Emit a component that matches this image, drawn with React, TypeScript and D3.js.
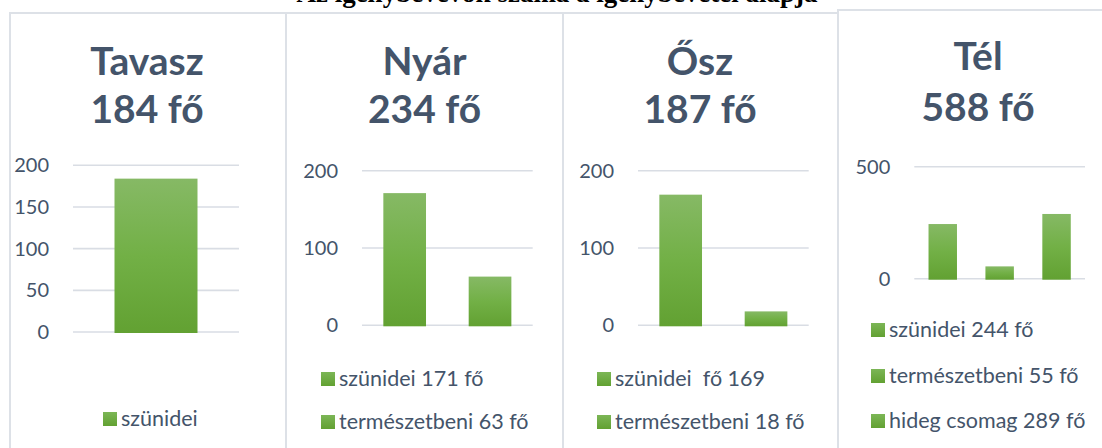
import React from "react";
import * as d3 from "d3";

// ---- data ----
const chartTitle = "Az igénybevevők száma a igénybevétel alapja";
const seasons = ["Tavasz", "Nyár", "Ősz", "Tél"];
const seasonTotals = ["184 fő", "234 fő", "187 fő", "588 fő"];

const tavaszCategories = ["szünidei"];
const tavaszValues = [184];
const nyarCategories = ["szünidei 171 fő", "természetbeni 63 fő"];
const nyarValues = [171, 63];
const oszCategories = ["szünidei  fő 169", "természetbeni 18 fő"];
const oszValues = [169, 18];
const telCategories = ["szünidei 244 fő", "természetbeni 55 fő", "hideg csomag 289 fő"];
const telValues = [244, 55, 289];

const tavaszTicks = [0, 50, 100, 150, 200];
const nyarTicks = [0, 100, 200];
const oszTicks = [0, 100, 200];
const telTicks = [0, 500];

// ---- layout ----
const W = 1102;
const H = 448;
const TEXT = "#44546a";
const GRID = "#d9dde4";
const BORDER = "#dde1e7";
const FONT = "Lato, 'Open Sans', sans-serif";

type Panel = {
  season: string;
  total: string;
  cats: string[];
  vals: number[];
  ticks: number[];
  max: number;
  box: [number, number, number]; // left, top, right
  xr: [number, number];
  yr: [number, number];
  headX: number;
  headY: [number, number];
  legend: "center" | "list";
  legendX: number;
  legendY: number[];
};

const panels: Panel[] = [
  {
    season: seasons[0], total: seasonTotals[0], cats: tavaszCategories, vals: tavaszValues,
    ticks: tavaszTicks, max: 200, box: [10, 13, 286], xr: [73, 239], yr: [332, 165.3],
    headX: 147, headY: [75, 123], legend: "center", legendX: 103, legendY: [426],
  },
  {
    season: seasons[1], total: seasonTotals[1], cats: nyarCategories, vals: nyarValues,
    ticks: nyarTicks, max: 200, box: [286, 13, 563], xr: [362, 532.7], yr: [325.3, 170.7],
    headX: 424.5, headY: [75, 123], legend: "list", legendX: 321, legendY: [386, 429],
  },
  {
    season: seasons[2], total: seasonTotals[2], cats: oszCategories, vals: oszValues,
    ticks: oszTicks, max: 200, box: [563, 13, 838], xr: [638, 808.7], yr: [325.3, 170.7],
    headX: 700, headY: [75, 123], legend: "list", legendX: 597, legendY: [386, 429],
  },
  {
    season: seasons[3], total: seasonTotals[3], cats: telCategories, vals: telValues,
    ticks: telTicks, max: 500, box: [838, 10, 1110], xr: [914.3, 1085], yr: [278.7, 166.7],
    headX: 978, headY: [70, 121], legend: "list", legendX: 871, legendY: [337, 383, 428],
  },
];

function PanelChart({ p }: { p: Panel }) {
  const x = d3.scaleBand<string>().domain(p.cats).range(p.xr).paddingInner(0.5).paddingOuter(0.25);
  const y = d3.scaleLinear().domain([0, p.max]).range(p.yr);
  const sq = 14;
  return (
    <g>
      <rect x={p.box[0]} y={p.box[1]} width={p.box[2] - p.box[0]} height={H + 20 - p.box[1]}
        fill="#fff" stroke={BORDER} strokeWidth={2} />
      <text x={p.headX} y={p.headY[0]} textAnchor="middle" fontFamily={FONT} fontWeight={700}
        fontSize={39} fill={TEXT}>{p.season}</text>
      <text x={p.headX} y={p.headY[1]} textAnchor="middle" fontFamily={FONT} fontWeight={700}
        fontSize={39} fill={TEXT}>{p.total}</text>
      {p.ticks.map((t) => (
        <g key={t}>
          <line x1={p.xr[0]} x2={p.xr[1]} y1={y(t)} y2={y(t)} stroke={GRID} strokeWidth={1.6} />
          <text x={p.xr[0] - 24} y={y(t)} dy="0.35em" textAnchor="end" fontFamily={FONT}
            fontSize={20} fill={TEXT}>{t}</text>
        </g>
      ))}
      {p.vals.map((v, i) => (
        <rect key={i} x={x(p.cats[i])} width={x.bandwidth()} y={y(v)} height={y(0) - y(v) + 1}
          fill="url(#barGrad)" />
      ))}
      {p.cats.map((c, i) => (
        <g key={c}>
          <rect x={p.legendX} y={p.legendY[i] - sq} width={sq} height={sq} fill="url(#legGrad)" />
          <text x={p.legendX + sq + 4} y={p.legendY[i]} fontFamily={FONT} fontSize={21.5} fill={TEXT}
            style={{ whiteSpace: "pre" }}>{c}</text>
        </g>
      ))}
    </g>
  );
}

export default function App() {
  return (
    <svg width={W} height={H} style={{ position: "absolute", left: 0, top: 0, background: "#fff" }}
      xmlns="http://www.w3.org/2000/svg">
      <defs>
        <linearGradient id="barGrad" x1="0" y1="0" x2="0" y2="1">
          <stop offset="0" stopColor="#86b965" />
          <stop offset="0.5" stopColor="#72b046" />
          <stop offset="1" stopColor="#62a132" />
        </linearGradient>
        <linearGradient id="legGrad" x1="0" y1="0" x2="0" y2="1">
          <stop offset="0" stopColor="#7cb656" />
          <stop offset="1" stopColor="#62a132" />
        </linearGradient>
      </defs>
      <rect width={W} height={H} fill="#fff" />
      <text x={557} y={2} textAnchor="middle" fontFamily="'Liberation Serif', 'DejaVu Serif', serif"
        fontWeight={700} fontSize={27} fill="#000">{chartTitle}</text>
      {panels.map((p) => (
        <PanelChart key={p.season} p={p} />
      ))}
    </svg>
  );
}
